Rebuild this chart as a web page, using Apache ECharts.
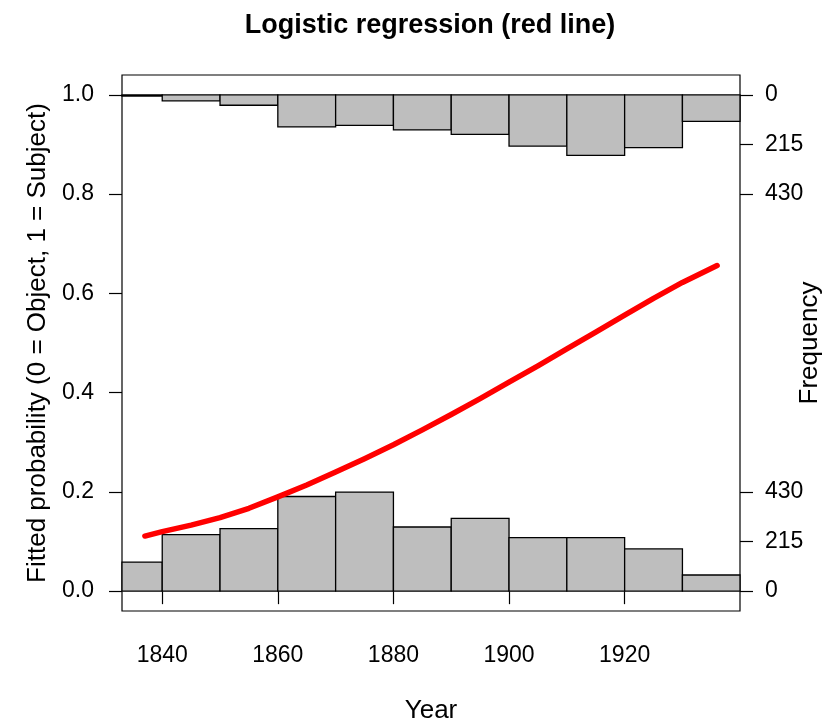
<!DOCTYPE html>
<html>
<head>
<meta charset="utf-8">
<script src="https://cdn.jsdelivr.net/npm/echarts@6/dist/echarts.min.js"></script>
<style>
  html, body { margin: 0; padding: 0; background: #ffffff; }
  #chart { width: 829px; height: 725px; }
</style>
</head>
<body>
<div id="chart"></div>
<script>
// Histogram bins (decades) and counts of observations per outcome
const binEdges = [1830, 1840, 1850, 1860, 1870, 1880, 1890, 1900, 1910, 1920, 1930, 1940];
const objectCounts  = [126, 245, 271, 410, 429, 278, 315, 232, 232, 183, 70];   // outcome 0, drawn up from 0
const subjectCounts = [5, 26, 45, 139, 132, 152, 171, 222, 262, 229, 115];     // outcome 1, drawn down from 1

// Fitted probability curve from the logistic model
const fitYears = [1837, 1840, 1845, 1850, 1855, 1860, 1865, 1870, 1875, 1880, 1885,
                  1890, 1895, 1900, 1905, 1910, 1915, 1920, 1925, 1930, 1936];
const fitProb  = [0.111, 0.120, 0.133, 0.148, 0.167, 0.190, 0.214, 0.240, 0.267, 0.295, 0.325,
                  0.356, 0.388, 0.421, 0.454, 0.488, 0.522, 0.556, 0.590, 0.622, 0.656];

// Axis ticks
const yearTicks = [1840, 1860, 1880, 1900, 1920];
const probTicks = [0, 0.2, 0.4, 0.6, 0.8, 1.0];
const probTickLabels = ['0.0', '0.2', '0.4', '0.6', '0.8', '1.0'];
const freqTicks = [0, 215, 430];
const freqTickLabels = ['0', '215', '430'];
const countsPerUnit = 2150;   // histogram counts per unit of probability axis

// Frequency ticks sit on both histograms: up from 0 and down from 1
const freqTickValues = freqTicks.map(c => c / countsPerUnit)
  .concat(freqTicks.map(c => 1 - c / countsPerUnit));
const freqTickText = freqTickLabels.concat(freqTickLabels);

const objectBars = objectCounts.map((c, i) => [binEdges[i], binEdges[i + 1], 0, c / countsPerUnit]);
const subjectBars = subjectCounts.map((c, i) => [binEdges[i], binEdges[i + 1], 1 - c / countsPerUnit, 1]);

const FONT = 'Liberation Sans, Arial, sans-serif';

function renderBar(params, api) {
  const p0 = api.coord([api.value(0), api.value(3)]);
  const p1 = api.coord([api.value(1), api.value(2)]);
  const rect = { x: p0[0], y: p0[1], width: p1[0] - p0[0], height: p1[1] - p0[1] };
  const cs = params.coordSys;
  const shape = echarts.graphic.clipRectByRect(rect, { x: cs.x, y: cs.y, width: cs.width, height: cs.height });
  if (!shape) return;
  return {
    type: 'rect',
    shape: shape,
    style: { fill: '#bebebe', stroke: '#000000', lineWidth: 1.3 }
  };
}

const tickStyle = { color: '#000000', width: 1.2 };

const chart = echarts.init(document.getElementById('chart'), null, { renderer: 'canvas' });
chart.setOption({
  animation: false,
  backgroundColor: '#ffffff',
  title: {
    text: 'Logistic regression (red line)',
    left: 425,
    top: 7,
    textAlign: 'center',
    textStyle: { fontFamily: FONT, fontSize: 27, fontWeight: 'bold', color: '#000000' }
  },
  grid: {
    left: 122, right: 89, top: 75, bottom: 114,
    outerBoundsMode: 'none',
    containLabel: false,
    show: true, borderColor: '#000000', borderWidth: 1.2, backgroundColor: 'transparent'
  },
  xAxis: {
    type: 'value',
    min: 1833.04, max: 1939.96,
    name: 'Year',
    nameLocation: 'middle',
    nameGap: 87,
    nameMoveOverlap: false,
    nameTextStyle: { fontFamily: FONT, fontSize: 26, color: '#000000' },
    axisLine: { show: false },
    splitLine: { show: false },
    axisTick: { show: true, length: 13, lineStyle: tickStyle, customValues: yearTicks },
    axisLabel: {
      fontFamily: FONT, fontSize: 23, color: '#000000', margin: 33,
      customValues: yearTicks,
      formatter: v => String(Math.round(v))
    }
  },
  yAxis: [
    {
      type: 'value',
      position: 'left',
      min: -0.04, max: 1.04,
      name: 'Fitted probability (0 = Object, 1 = Subject)',
      nameLocation: 'middle',
      nameRotate: 90,
      nameGap: 71,
      nameMoveOverlap: false,
      nameTextStyle: { fontFamily: FONT, fontSize: 26, color: '#000000' },
      axisLine: { show: false },
      splitLine: { show: false },
      axisTick: { show: true, length: 13, lineStyle: tickStyle, customValues: probTicks },
      axisLabel: {
        fontFamily: FONT, fontSize: 23, color: '#000000', margin: 28,
        customValues: probTicks,
        formatter: v => {
          const i = probTicks.findIndex(t => Math.abs(t - v) < 1e-6);
          return i >= 0 ? probTickLabels[i] : '';
        }
      }
    },
    {
      type: 'value',
      position: 'right',
      min: -0.04, max: 1.04,
      name: 'Frequency',
      nameLocation: 'middle',
      nameRotate: 90,
      nameGap: 57,
      nameMoveOverlap: false,
      nameTextStyle: { fontFamily: FONT, fontSize: 26, color: '#000000' },
      axisLine: { show: false },
      splitLine: { show: false },
      axisTick: { show: true, length: 13, lineStyle: tickStyle, customValues: freqTickValues },
      axisLabel: {
        fontFamily: FONT, fontSize: 23, color: '#000000', margin: 25,
        customValues: freqTickValues,
        formatter: v => {
          const i = freqTickValues.findIndex(t => Math.abs(t - v) < 1e-6);
          return i >= 0 ? freqTickText[i] : '';
        }
      }
    }
  ],
  series: [
    {
      name: 'Object',
      type: 'custom',
      renderItem: renderBar,
      encode: { x: [0, 1], y: [2, 3] },
      data: objectBars,
      z: 2
    },
    {
      name: 'Subject',
      type: 'custom',
      renderItem: renderBar,
      encode: { x: [0, 1], y: [2, 3] },
      data: subjectBars,
      z: 2
    },
    {
      name: 'Fitted',
      type: 'line',
      data: fitYears.map((y, i) => [y, fitProb[i]]),
      smooth: false,
      showSymbol: false,
      lineStyle: { color: '#ff0000', width: 5.5, cap: 'round', join: 'round' },
      z: 5
    }
  ]
});
</script>
</body>
</html>
